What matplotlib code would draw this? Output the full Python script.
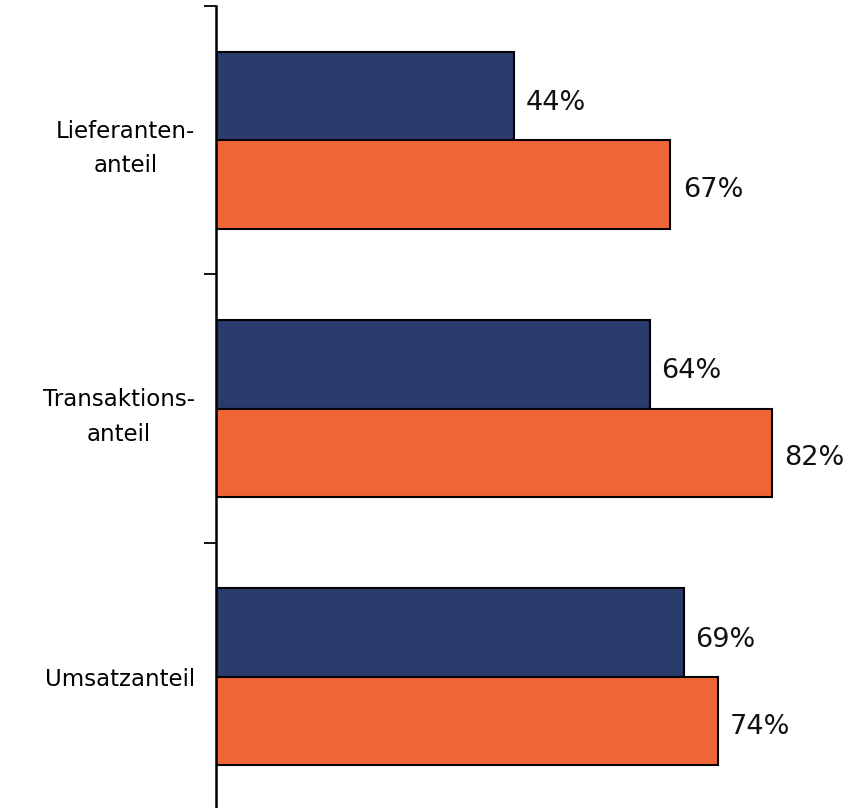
import matplotlib
matplotlib.use("Agg")
import matplotlib.pyplot as plt
import numpy as np

categories = ["Lieferanten-\nanteil", "Transaktions-\nanteil", "Umsatzanteil"]
series_navy = [44, 64, 69]
series_orange = [67, 82, 74]
navy_color = "#2C3B6E"
orange_color = "#F06536"

fig = plt.figure(figsize=(8.6, 8.08), dpi=100)
ax = fig.add_axes([216 / 860, -3 / 808, 644 / 860, 805 / 808])

y = np.arange(len(categories))
h = 0.33
ax.barh(y - h / 2, series_navy, height=h, color=navy_color, edgecolor="black", linewidth=1.5)
ax.barh(y + h / 2, series_orange, height=h, color=orange_color, edgecolor="black", linewidth=1.5)

for yi, v in zip(y - h / 2, series_navy):
    ax.annotate(f"{v}%", (v, yi), xytext=(8, -5), textcoords="offset points",
                ha="left", va="center", fontsize=19.5, color="#111111")
for yi, v in zip(y + h / 2, series_orange):
    ax.annotate(f"{v}%", (v, yi), xytext=(9, -4), textcoords="offset points",
                ha="left", va="center", fontsize=19.5, color="#111111")

ax.set_xlim(0, 644 / 6.78)
ax.set_ylim(2.5, -0.5)

ax.set_yticks(y)
ax.set_yticklabels(categories, fontsize=16.5, multialignment="center", linespacing=1.65)
ax.tick_params(axis="y", which="major", length=0, pad=15)
ax.set_yticks(np.arange(-0.5, len(categories) + 0.5, 1.0), minor=True)
ax.tick_params(axis="y", which="minor", length=9, width=1.3, direction="out")
ax.set_xticks([])

for s in ["top", "right", "bottom"]:
    ax.spines[s].set_visible(False)
ax.spines["left"].set_linewidth(1.8)

fig.savefig("out.png", dpi=100)
